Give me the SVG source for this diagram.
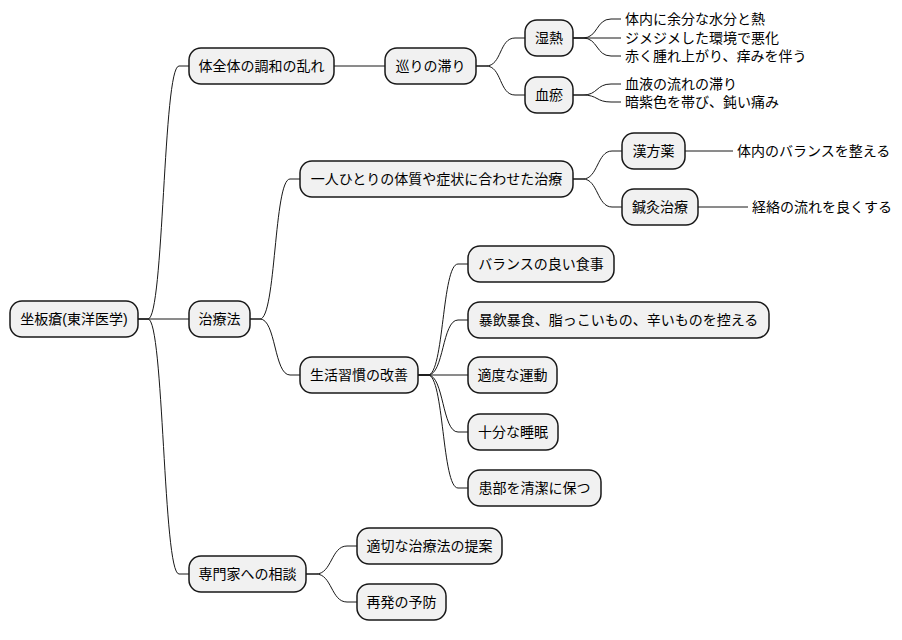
<svg xmlns="http://www.w3.org/2000/svg" width="902" height="640" viewBox="0 0 902 640">
<style>
rect{fill:#f1f1f1;stroke:#181818;stroke-width:1.5}
text{font-family:"Liberation Sans","Noto Sans CJK JP",sans-serif;font-size:14px;fill:#000;dominant-baseline:central}
.c{text-anchor:middle}
#links path{fill:none;stroke:#181818;stroke-width:1}
</style>
<rect width="902" height="640" style="fill:#fff;stroke:none"/>
<g id="links">
<path d="M138,319 L148,319 C164,319 163,66 179,66 L189,66"/>
<path d="M138,319 L189,319"/>
<path d="M138,319 L148,319 C164,319 163,574 179,574 L189,574"/>
<path d="M334,66 L385,66"/>
<path d="M476,66 L486,66 C502,66 499,38 515,38 L525,38"/>
<path d="M476,66 L486,66 C502,66 499,95 515,95 L525,95"/>
<path d="M573,38 L583,38 C598,38 596,19 611,19 L621,19"/>
<path d="M573,38 L621,38"/>
<path d="M573,38 L583,38 C598,38 596,56 611,56 L621,56"/>
<path d="M573,95 L583,95 C598,95 596,84 611,84 L621,84"/>
<path d="M573,95 L583,95 C598,95 596,102 611,102 L621,102"/>
<path d="M250,319 L260,319 C276,319 274,179 290,179 L300,179"/>
<path d="M250,319 L260,319 C276,319 274,375 290,375 L300,375"/>
<path d="M573,179 L583,179 C598,179 597,151 612,151 L622,151"/>
<path d="M573,179 L583,179 C598,179 597,207 612,207 L622,207"/>
<path d="M685,151 L733,151"/>
<path d="M698,207 L748,207"/>
<path d="M418,375 L428,375 C444,375 442,264 458,264 L468,264"/>
<path d="M418,375 L428,375 C444,375 442,320 458,320 L468,320"/>
<path d="M418,375 L468,375"/>
<path d="M418,375 L428,375 C444,375 442,432 458,432 L468,432"/>
<path d="M418,375 L428,375 C444,375 442,488 458,488 L468,488"/>
<path d="M306,574 L316,574 C332,574 331,546 347,546 L357,546"/>
<path d="M306,574 L316,574 C332,574 331,602 347,602 L357,602"/>
</g>
<g id="root"><rect x="10" y="301" width="128" height="36" rx="12"/><text class="c" x="74" y="319">坐板瘡(東洋医学)</text></g>
<g id="n1"><rect x="189" y="48" width="145" height="36" rx="12"/><text class="c" x="261.5" y="66">体全体の調和の乱れ</text></g>
<g id="n11"><rect x="385" y="48" width="91" height="36" rx="12"/><text class="c" x="430.5" y="66">巡りの滞り</text></g>
<g id="n111"><rect x="525" y="20" width="48" height="36" rx="12"/><text class="c" x="549" y="38">湿熱</text></g>
<g id="n112"><rect x="525" y="77" width="48" height="36" rx="12"/><text class="c" x="549" y="95">血瘀</text></g>
<g id="l1"><text x="625" y="19">体内に余分な水分と熱</text></g>
<g id="l2"><text x="625" y="38">ジメジメした環境で悪化</text></g>
<g id="l3"><text x="625" y="56">赤く腫れ上がり、痒みを伴う</text></g>
<g id="l4"><text x="625" y="84">血液の流れの滞り</text></g>
<g id="l5"><text x="625" y="102">暗紫色を帯び、鈍い痛み</text></g>
<g id="n2"><rect x="189" y="301" width="61" height="36" rx="12"/><text class="c" x="219.5" y="319">治療法</text></g>
<g id="n21"><rect x="300" y="161" width="273" height="36" rx="12"/><text class="c" x="436.5" y="179">一人ひとりの体質や症状に合わせた治療</text></g>
<g id="n211"><rect x="622" y="133" width="63" height="36" rx="12"/><text class="c" x="653.5" y="151">漢方薬</text></g>
<g id="n212"><rect x="622" y="189" width="76" height="36" rx="12"/><text class="c" x="660" y="207">鍼灸治療</text></g>
<g id="l6"><text x="737" y="151">体内のバランスを整える</text></g>
<g id="l7"><text x="752" y="207">経絡の流れを良くする</text></g>
<g id="n22"><rect x="300" y="357" width="118" height="36" rx="12"/><text class="c" x="359" y="375">生活習慣の改善</text></g>
<g id="n221"><rect x="468" y="246" width="146" height="36" rx="12"/><text class="c" x="541" y="264">バランスの良い食事</text></g>
<g id="n222"><rect x="468" y="302" width="301" height="36" rx="12"/><text class="c" x="618.5" y="320">暴飲暴食、脂っこいもの、辛いものを控える</text></g>
<g id="n223"><rect x="468" y="357" width="89" height="36" rx="12"/><text class="c" x="512.5" y="375">適度な運動</text></g>
<g id="n224"><rect x="468" y="414" width="90" height="36" rx="12"/><text class="c" x="513" y="432">十分な睡眠</text></g>
<g id="n225"><rect x="468" y="470" width="133" height="36" rx="12"/><text class="c" x="534.5" y="488">患部を清潔に保つ</text></g>
<g id="n3"><rect x="189" y="556" width="117" height="36" rx="12"/><text class="c" x="247.5" y="574">専門家への相談</text></g>
<g id="n31"><rect x="357" y="528" width="145" height="36" rx="12"/><text class="c" x="429.5" y="546">適切な治療法の提案</text></g>
<g id="n32"><rect x="357" y="584" width="89" height="36" rx="12"/><text class="c" x="401.5" y="602">再発の予防</text></g>
</svg>
